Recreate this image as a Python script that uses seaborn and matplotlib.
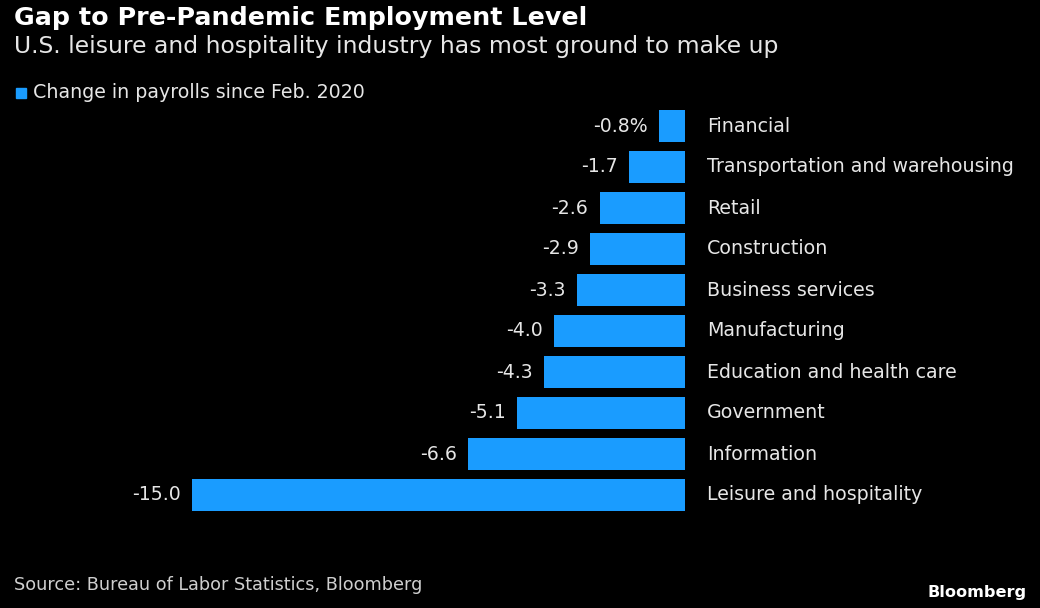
import pandas as pd
import numpy as np
import seaborn as sns
import matplotlib
matplotlib.use('Agg')
import matplotlib.pyplot as plt

# Data
sectors = ["Financial", "Transportation and warehousing", "Retail", "Construction",
           "Business services", "Manufacturing", "Education and health care",
           "Government", "Information", "Leisure and hospitality"]
changes = [-0.8, -1.7, -2.6, -2.9, -3.3, -4.0, -4.3, -5.1, -6.6, -15.0]
value_labels = ["-0.8%", "-1.7", "-2.6", "-2.9", "-3.3", "-4.0", "-4.3", "-5.1", "-6.6", "-15.0"]

df = pd.DataFrame({"sector": sectors, "change": changes})

bg = "black"
bar_color = "#1a9cff"
txt = "#e6e6e6"

sns.set_theme(style="dark")
plt.rcParams['font.family'] = ['DejaVu Sans']

fig = plt.figure(figsize=(10.4, 6.08), dpi=100, facecolor=bg)
ax = fig.add_axes([192 / 1040, (608 - 515.5) / 608, 493 / 1040, 410 / 608])
ax.set_facecolor(bg)

sns.barplot(data=df, y="sector", x="change", orient="h", color=bar_color,
            width=0.78, saturation=1, linewidth=0, edgecolor=bar_color, ax=ax)

ax.set_xlim(-15, 0)
ax.set_ylim(9.5, -0.5)
ax.set_xlabel("")
ax.set_ylabel("")
ax.set_xticks([])
ax.set_yticks([])
for s in ax.spines.values():
    s.set_visible(False)

# value labels left of bars, sector names right of zero
for i, (v, lab, name) in enumerate(zip(changes, value_labels, sectors)):
    ax.annotate(lab, (v, i), xytext=(-8, 0), textcoords="offset points",
                ha="right", va="center", color=txt, fontsize=13.6, annotation_clip=False)
    ax.annotate(name, (0, i), xytext=(16, 0), textcoords="offset points",
                ha="left", va="center", color=txt, fontsize=13.7, annotation_clip=False)

# titles
fig.text(14 / 1040, 1 - 18 / 608, "Gap to Pre-Pandemic Employment Level", color="white",
         fontsize=18.3, fontweight="bold", ha="left", va="center")
fig.text(14 / 1040, 1 - 47 / 608, "U.S. leisure and hospitality industry has most ground to make up",
         color=txt, fontsize=16.9, ha="left", va="center")

# legend
fig.patches.append(plt.Rectangle((16 / 1040, 1 - 98 / 608), 10 / 1040, 10 / 608,
                                 transform=fig.transFigure, color=bar_color))
fig.text(33 / 1040, 1 - 92 / 608, "Change in payrolls since Feb. 2020", color=txt,
         fontsize=13.7, ha="left", va="center")

# footer
fig.text(14 / 1040, 1 - 585 / 608, "Source: Bureau of Labor Statistics, Bloomberg", color="#cfcfcf",
         fontsize=12.7, ha="left", va="center")
fig.text(1027 / 1040, 1 - 593 / 608, "Bloomberg", color="white", fontsize=11.6,
         fontweight="bold", ha="right", va="center")

fig.savefig("out.png", dpi=100, facecolor=bg)
